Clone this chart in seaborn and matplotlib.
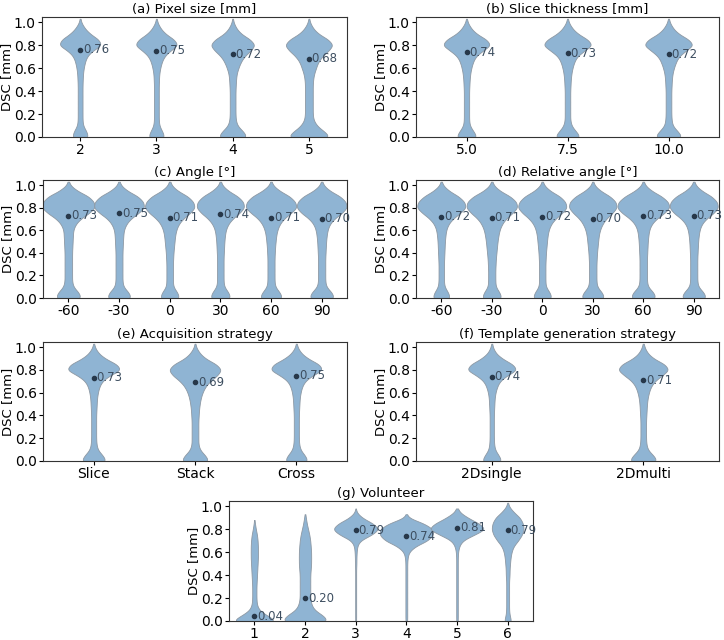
import numpy as np
import pandas as pd
import matplotlib
matplotlib.use("Agg")
import matplotlib.pyplot as plt
import seaborn as sns

levels = [0.00, 0.05, 0.10, 0.15, 0.20, 0.25, 0.30, 0.35, 0.40, 0.45, 0.50,
          0.55, 0.60, 0.65, 0.70, 0.75, 0.80, 0.85, 0.90, 0.95, 1.00]

# (a) Pixel size
pixel_cats = ['2', '3', '4', '5']
pixel_medians = [0.76, 0.75, 0.72, 0.68]
pixel_counts = [
    [36, 26, 12, 10, 10, 10, 10, 10, 10, 10, 11, 12, 15, 20, 28, 50, 92, 78, 40, 18, 4],
    [36, 24, 12, 10, 10, 10, 10, 10, 10, 10, 11, 12, 16, 22, 32, 56, 92, 74, 36, 16, 4],
    [54, 36, 16, 11, 10, 10, 10, 10, 10, 11, 12, 14, 20, 28, 40, 62, 80, 62, 28, 12, 3],
    [70, 46, 24, 14, 12, 12, 12, 12, 12, 12, 13, 16, 22, 28, 40, 60, 76, 60, 28, 12, 3],
]

# (b) Slice thickness
thick_cats = ['5.0', '7.5', '10.0']
thick_medians = [0.74, 0.73, 0.72]
thick_counts = [
    [42, 26, 12, 10, 10, 10, 10, 10, 10, 11, 12, 14, 18, 24, 34, 60, 94, 76, 36, 16, 4],
    [50, 30, 14, 10, 10, 10, 10, 10, 10, 11, 12, 14, 18, 24, 34, 60, 92, 74, 36, 16, 4],
    [52, 32, 14, 11, 10, 10, 10, 10, 10, 11, 12, 14, 19, 26, 36, 60, 90, 72, 34, 15, 4],
]

# (c) Angle
angle_cats = ['-60', '-30', '0', '30', '60', '90']
angle_medians = [0.73, 0.75, 0.71, 0.74, 0.71, 0.70]
angle_counts = [
    [50, 38, 18, 14, 14, 14, 14, 14, 14, 15, 16, 17, 18, 26, 44, 76, 100, 96, 76, 32, 6],
    [48, 36, 16, 13, 13, 13, 13, 13, 13, 14, 15, 16, 18, 26, 42, 72, 96, 92, 72, 30, 6],
    [38, 28, 13, 12, 12, 12, 12, 13, 14, 16, 18, 20, 24, 32, 48, 74, 94, 88, 68, 28, 6],
    [40, 30, 14, 12, 12, 12, 12, 12, 13, 14, 15, 17, 20, 28, 44, 70, 90, 86, 66, 28, 6],
    [44, 32, 15, 13, 13, 13, 13, 13, 14, 15, 17, 19, 23, 31, 46, 72, 96, 90, 70, 30, 6],
    [48, 36, 16, 13, 13, 13, 13, 13, 14, 15, 16, 18, 21, 28, 44, 72, 92, 88, 68, 28, 6],
]

# (d) Relative angle
rel_cats = ['-60', '-30', '0', '30', '60', '90']
rel_medians = [0.72, 0.71, 0.72, 0.70, 0.73, 0.73]
rel_counts = [
    [38, 28, 13, 11, 11, 11, 11, 12, 13, 14, 15, 17, 20, 28, 46, 76, 102, 96, 72, 30, 6],
    [38, 28, 14, 13, 13, 13, 14, 15, 17, 19, 21, 24, 28, 36, 50, 74, 94, 90, 68, 28, 6],
    [38, 28, 13, 12, 12, 12, 12, 13, 14, 16, 18, 20, 24, 32, 48, 74, 94, 88, 68, 28, 6],
    [44, 32, 15, 13, 13, 13, 13, 14, 15, 17, 19, 21, 25, 33, 46, 68, 86, 82, 62, 26, 5],
    [50, 38, 17, 14, 14, 14, 14, 14, 15, 16, 17, 19, 22, 30, 48, 78, 100, 94, 70, 30, 6],
    [48, 36, 16, 13, 13, 13, 13, 13, 14, 15, 16, 18, 21, 28, 44, 72, 90, 86, 66, 28, 6],
]

# (e) Acquisition strategy
acq_cats = ['Slice', 'Stack', 'Cross']
acq_medians = [0.73, 0.69, 0.75]
acq_counts = [
    [48, 32, 14, 10, 9, 9, 9, 9, 9, 10, 11, 12, 15, 20, 30, 56, 100, 84, 40, 16, 4],
    [44, 30, 14, 10, 10, 10, 10, 10, 11, 12, 14, 17, 22, 30, 44, 66, 80, 64, 30, 13, 3],
    [44, 30, 14, 10, 9, 9, 9, 9, 9, 10, 11, 12, 15, 20, 30, 56, 96, 82, 40, 16, 4],
]

# (f) Template generation strategy
tmpl_cats = ['2Dsingle', '2Dmulti']
tmpl_medians = [0.74, 0.71]
tmpl_counts = [
    [40, 26, 12, 9, 8, 8, 8, 8, 8, 9, 10, 11, 14, 20, 30, 56, 98, 80, 38, 14, 4],
    [48, 32, 14, 10, 9, 9, 9, 9, 10, 11, 12, 14, 18, 24, 36, 60, 84, 70, 32, 13, 4],
]

# (g) Volunteer
vol_cats = ['1', '2', '3', '4', '5', '6']
vol_medians = [0.04, 0.20, 0.79, 0.74, 0.81, 0.79]
vol_counts = [
    [80, 40, 14, 8, 7, 7, 7, 8, 9, 10, 11, 12, 12, 12, 11, 9, 5, 2, 0, 0, 0],
    [56, 40, 20, 14, 12, 12, 12, 12, 12, 13, 14, 14, 14, 13, 12, 10, 7, 4, 2, 0, 0],
    [2, 2, 2, 2, 2, 2, 2, 2, 2, 2, 3, 3, 4, 6, 16, 64, 96, 70, 24, 2, 0],
    [3, 3, 3, 3, 3, 3, 3, 3, 3, 3, 3, 4, 8, 28, 70, 88, 88, 58, 4, 0, 0],
    [3, 3, 3, 3, 3, 3, 3, 3, 3, 3, 3, 3, 4, 8, 20, 64, 112, 84, 40, 8, 0],
    [8, 4, 3, 3, 3, 3, 3, 3, 4, 4, 5, 6, 8, 12, 22, 30, 34, 32, 26, 12, 2],
]

panels = [
    ("(a) Pixel size [mm]", pixel_cats, pixel_counts, pixel_medians, 0.60, [42, 17, 305, 120]),
    ("(b) Slice thickness [mm]", thick_cats, thick_counts, thick_medians, 0.46, [416, 17, 303, 120]),
    ("(c) Angle [°]", angle_cats, angle_counts, angle_medians, 1.03, [43, 180, 304, 118]),
    ("(d) Relative angle [°]", rel_cats, rel_counts, rel_medians, 1.02, [416, 180, 303, 118]),
    ("(e) Acquisition strategy", acq_cats, acq_counts, acq_medians, 0.50, [43, 342, 304, 119]),
    ("(f) Template generation strategy", tmpl_cats, tmpl_counts, tmpl_medians, 0.32, [416, 342, 303, 119]),
    ("(g) Volunteer", vol_cats, vol_counts, vol_medians, 1.05, [229, 501, 304, 120]),
]

BW = 0.03
FILL = '#8fb4d3'
EDGE = '#8d98a3'
DOT = '#27384a'
LABEL = '#3d4e60'

W, H = 724, 640
fig = plt.figure(figsize=(W / 100, H / 100), dpi=100)

for title, cats, counts, medians, vwidth, (x0, y0, w, h) in panels:
    ax = fig.add_axes([x0 / W, 1 - (y0 + h) / H, w / W, h / H])
    frames = []
    for cat, c in zip(cats, counts):
        frames.append(pd.DataFrame({'group': cat, 'dsc': np.repeat(levels, c)}))
    df = pd.concat(frames, ignore_index=True)

    sns.violinplot(data=df, x='group', y='dsc', order=cats, ax=ax,
                   color=FILL, saturation=1, linecolor=EDGE, linewidth=0.6,
                   inner=None, cut=1, density_norm='count', width=vwidth,
                   bw_method=lambda k: BW / np.std(k.dataset))

    ax.plot(range(len(cats)), medians, 'o', color=DOT, ms=3, zorder=5)
    for i, m in enumerate(medians):
        ax.annotate(f"{m:.2f}", (i, m), xytext=(2, 0), textcoords='offset points',
                    ha='left', va='center', fontsize=8.5, color=LABEL, zorder=6)

    ax.set_ylim(0, 1.045)
    ax.set_xlim(-0.5, len(cats) - 0.5)
    ax.set_yticks([0.0, 0.2, 0.4, 0.6, 0.8, 1.0])
    ax.set_title(title, fontsize=9.5, pad=3)
    ax.set_xlabel('')
    ax.set_ylabel('DSC [mm]', fontsize=9.5, labelpad=0.5)
    ax.tick_params(labelsize=10, length=3, width=0.8, pad=1.5)
    ax.tick_params(axis='x', pad=1)
    for s in ax.spines.values():
        s.set_color('#333333')
        s.set_linewidth(0.8)

fig.savefig('out.png', dpi=100)
